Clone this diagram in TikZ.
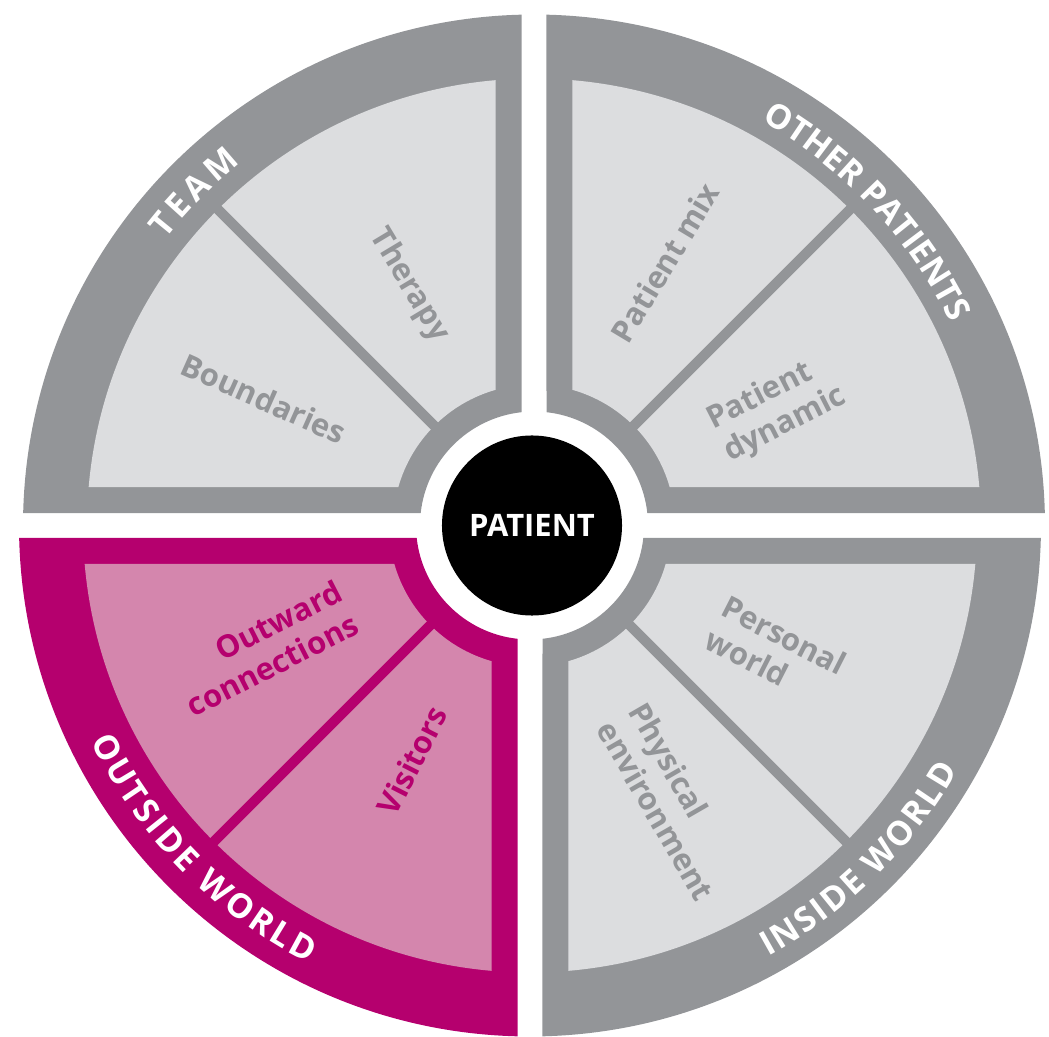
\documentclass[tikz,border=0pt]{standalone}
\usepackage{fontspec}
\setmainfont{Open Sans}
\usetikzlibrary{decorations.text}
\definecolor{ringgray}{HTML}{939598}
\definecolor{panelgray}{HTML}{DCDDDF}
\definecolor{ringpink}{HTML}{B5006E}
\definecolor{panelpink}{HTML}{D486AD}
\tikzset{
  lbl/.style={font=\fontsize{22}{26}\selectfont\bfseries, inner sep=0pt},
  ringtext/.style={decorate, decoration={text along path, text align=fit to path,
    text={|\fontsize{24}{26}\selectfont\bfseries\color{white}|#1}}},
}
\begin{document}
\begin{tikzpicture}[x=0.025cm,y=0.025cm]
\pgfmathsetmacro{\R}{511}
\pgfmathsetmacro{\rh}{114}
\pgfmathsetmacro{\ro}{447}
\pgfmathsetmacro{\ri}{141}
\pgfmathsetmacro{\g}{12.5}
\pgfmathsetmacro{\h}{38.5}
\useasboundingbox (-532,-510.5) rectangle (517,525.5);
%
\foreach \rot/\dx/\dark/\light in {0/2/ringgray/panelgray,90/2/ringgray/panelgray,180/-2/ringpink/panelpink,270/-2/ringgray/panelgray}{
\begin{scope}[shift={(\dx,0)},rotate=\rot]
\pgfmathsetmacro{\aR}{asin(\g/\R)}\pgfmathsetmacro{\bR}{90-\aR}
\pgfmathsetmacro{\ah}{asin(\g/\rh)}\pgfmathsetmacro{\bh}{90-\ah}
\pgfmathsetmacro{\ao}{asin(\h/\ro)}\pgfmathsetmacro{\bo}{90-\ao}
\pgfmathsetmacro{\ai}{asin(\h/\ri)}\pgfmathsetmacro{\bi}{90-\ai}
\pgfmathsetmacro{\di}{\ri-8}\pgfmathsetmacro{\do}{\ro+8}
\fill[\dark](\aR:\R) arc[start angle=\aR,end angle=\bR,radius=\R]--(\bh:\rh) arc[start angle=\bh,end angle=\ah,radius=\rh]--cycle;
\fill[\light](\ao:\ro) arc[start angle=\ao,end angle=\bo,radius=\ro]--(\bi:\ri) arc[start angle=\bi,end angle=\ai,radius=\ri]--cycle;
\draw[\dark,line width=0.25cm](45:\di)--(45:\do);
\end{scope}
}
%
\node[lbl,circle,fill=black,text=white,minimum size=4.5cm](patient) at (0,0){PATIENT};
%
\path[ringtext=TEAM](142:465) arc[start angle=142,end angle=128.8,radius=465];
\path[ringtext=OTHER PATIENTS](60.5:465) arc[start angle=60.5,end angle=25.9,radius=465];
\path[ringtext=OUTSIDE WORLD](206:491.5) arc[start angle=206,end angle=242.9,radius=491.5];
\path[ringtext=INSIDE WORLD](-61.3:491.5) arc[start angle=-61.3,end angle=-29.9,radius=491.5];
%
\node[lbl,text=ringgray,rotate=-59](therapy) at (-123,240){Therapy};
\node[lbl,text=ringgray,rotate=-24](boundaries) at (-268,127){Boundaries};
\node[lbl,text=ringgray,rotate=59](mix) at (133,263){Patient mix};
\node[lbl,text=ringgray,rotate=27,align=left](dynamic) at (245,117){Patient\\dynamic};
\node[lbl,text=ringpink,rotate=27,align=right](outward) at (-268,-123){Outward\\connections};
\node[lbl,text=ringpink,rotate=63](visitors) at (-120,-235){Visitors};
\node[lbl,text=ringgray,rotate=-27,align=left](personal) at (244,-126){Personal\\world};
\node[lbl,text=ringgray,rotate=-60,align=left](physical) at (140,-276){Physical\\environment};
\end{tikzpicture}
\end{document}
